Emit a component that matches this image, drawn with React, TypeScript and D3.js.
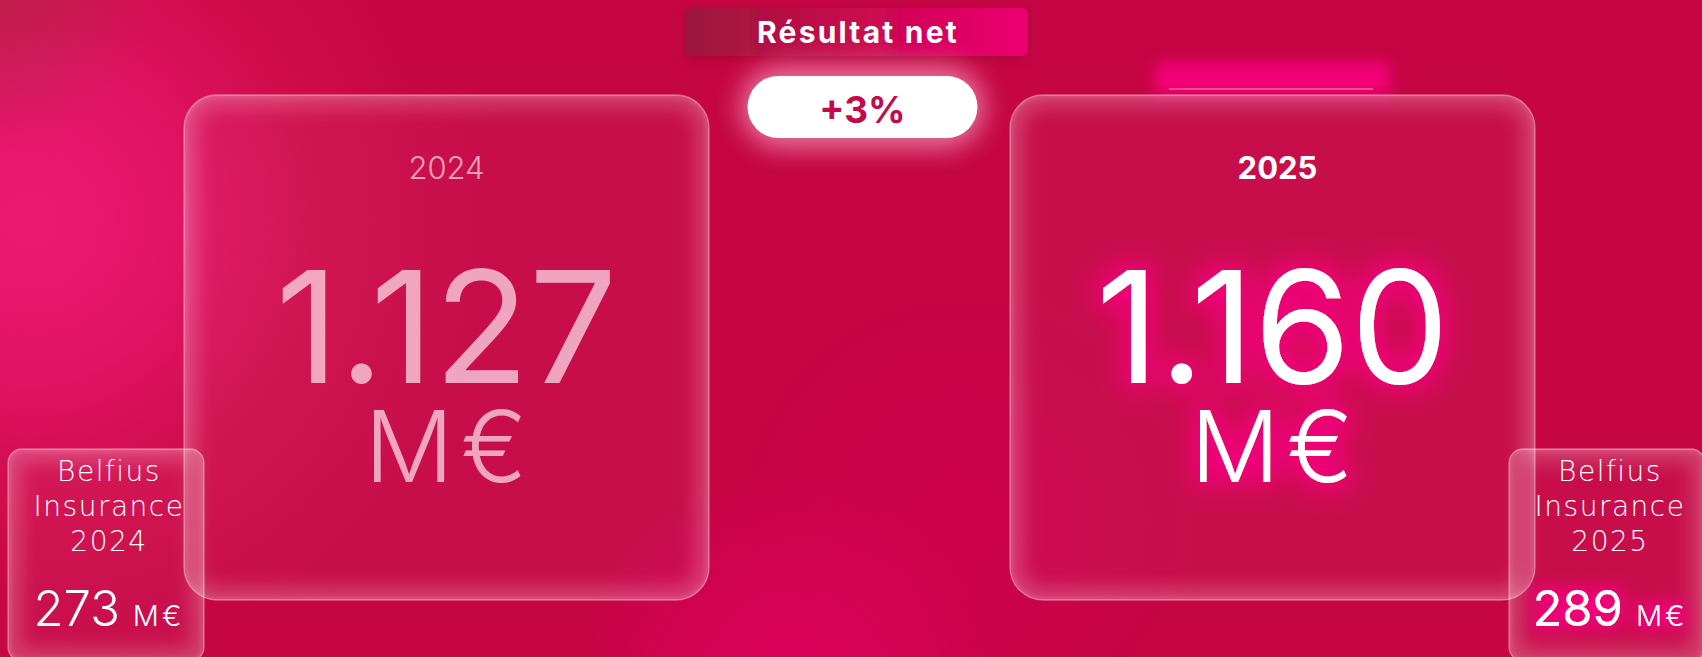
import React from "react";
import * as d3 from "d3";

// ---- data ----
const years = ["2024", "2025"];
const netResult = [1127, 1160]; // M€
const subsidiaryName = ["Belfius", "Insurance"];
const subsidiaryResult = [273, 289]; // M€
const titleText = "Résultat net";
const unitText = "M€";

const W = 1702;
const H = 657;
const FONT = "Inter, 'Open Sans', 'Noto Sans', sans-serif";
const WIDE = "'DejaVu Sans', Inter, sans-serif";

const locale = d3.formatLocale({ decimal: ",", thousands: ".", grouping: [3], currency: ["", "€"] });
const fmtNum = locale.format(",d");
const fmtChange = (a: number, b: number) => {
  const v = Math.round((b / a - 1) * 100);
  return (v >= 0 ? "+" : "") + v + "%";
};

function GlassCard({ id, x, y, w, h, r }: { id: string; x: number; y: number; w: number; h: number; r: number }) {
  return (
    <g>
      <clipPath id={id}>
        <rect x={x} y={y} width={w} height={h} rx={r} />
      </clipPath>
      <rect x={x} y={y} width={w} height={h} rx={r} fill="rgba(255,255,255,0.04)" />
      <g clipPath={`url(#${id})`}>
        <rect x={x} y={y} width={w} height={h} rx={r} fill="none" stroke="rgba(255,255,255,0.2)" strokeWidth={26} filter="url(#soft)" />
        <rect x={x} y={y} width={w} height={h} rx={r} fill="none" stroke="rgba(255,255,255,0.12)" strokeWidth={6} filter="url(#soft2)" />
      </g>
      <rect x={x} y={y} width={w} height={h} rx={r} fill="none" stroke="rgba(255,255,255,0.36)" strokeWidth={1.3} />
    </g>
  );
}

export default function App() {
  const xCard = d3.scaleBand<string>().domain(years).range([184, 1535]).paddingInner(301 / 826);
  const xSmall = d3.scaleBand<string>().domain(years).range([8, 1705]).paddingInner(1 - 196 / 1501);
  const cw = xCard.bandwidth();
  const sw = xSmall.bandwidth();
  const cardTop = 95;
  const cardH = 505;
  const smallTop = 449;
  const smallH = 212;
  const lastIdx = years.length - 1;
  const change = fmtChange(netResult[0], netResult[lastIdx]);
  const midX = ((xCard(years[0]) as number) + cw / 2 + (xCard(years[lastIdx]) as number) + cw / 2) / 2 + 3;
  const lastX = xCard(years[lastIdx]) as number;

  return (
    <svg width={W} height={H} style={{ position: "absolute", left: 0, top: 0, display: "block" }} fontFamily={FONT}>
      <defs>
        <radialGradient id="bgTL" gradientUnits="userSpaceOnUse" cx={30} cy={220} r={500}>
          <stop offset="0" stopColor="#ee1a72" stopOpacity={1} />
          <stop offset="0.3" stopColor="#e6176a" stopOpacity={0.85} />
          <stop offset="0.65" stopColor="#d8124f" stopOpacity={0.4} />
          <stop offset="1" stopColor="#c50544" stopOpacity={0} />
        </radialGradient>
        <radialGradient id="bgCorner" gradientUnits="userSpaceOnUse" cx={0} cy={0} r={150}>
          <stop offset="0" stopColor="#b8244c" stopOpacity={0.75} />
          <stop offset="1" stopColor="#b8244c" stopOpacity={0} />
        </radialGradient>
        <radialGradient id="bgBottom" gradientUnits="userSpaceOnUse" cx={790} cy={690} r={220}>
          <stop offset="0" stopColor="#e2005f" stopOpacity={0.9} />
          <stop offset="1" stopColor="#e2005f" stopOpacity={0} />
        </radialGradient>
        <radialGradient id="bgMid" gradientUnits="userSpaceOnUse" cx={960} cy={520} r={260}>
          <stop offset="0" stopColor="#d3004f" stopOpacity={0.6} />
          <stop offset="1" stopColor="#d3004f" stopOpacity={0} />
        </radialGradient>
        <linearGradient id="titleGrad" x1="0" x2="1" y1="0" y2="0">
          <stop offset="0" stopColor="#9a1840" />
          <stop offset="0.12" stopColor="#a8143f" />
          <stop offset="0.5" stopColor="#c8084e" />
          <stop offset="1" stopColor="#ec0071" />
        </linearGradient>
        <filter id="soft" x="-10%" y="-10%" width="120%" height="120%">
          <feGaussianBlur stdDeviation="9" />
        </filter>
        <filter id="soft2" x="-10%" y="-10%" width="120%" height="120%">
          <feGaussianBlur stdDeviation="2" />
        </filter>
        <filter id="blur12" x="-50%" y="-100%" width="200%" height="300%">
          <feGaussianBlur stdDeviation="13" />
        </filter>
        <filter id="blur8" x="-50%" y="-100%" width="200%" height="300%">
          <feGaussianBlur stdDeviation="7" />
        </filter>
        <filter id="shadow" x="-20%" y="-50%" width="140%" height="200%">
          <feGaussianBlur in="SourceAlpha" stdDeviation="4" />
          <feOffset dy="3" result="o" />
          <feFlood floodColor="#7a0020" floodOpacity="0.35" />
          <feComposite in2="o" operator="in" result="s" />
          <feMerge>
            <feMergeNode in="s" />
            <feMergeNode in="SourceGraphic" />
          </feMerge>
        </filter>
        <filter id="pinkGlow" x="-30%" y="-40%" width="160%" height="180%">
          <feMorphology operator="dilate" radius="7" in="SourceAlpha" result="d" />
          <feGaussianBlur in="d" stdDeviation="13" result="b" />
          <feFlood floodColor="#f4007e" floodOpacity="0.95" />
          <feComposite in2="b" operator="in" result="g" />
          <feMerge>
            <feMergeNode in="g" />
            <feMergeNode in="SourceGraphic" />
          </feMerge>
        </filter>
        <filter id="pinkGlowS" x="-30%" y="-40%" width="160%" height="180%">
          <feMorphology operator="dilate" radius="4" in="SourceAlpha" result="d" />
          <feGaussianBlur in="d" stdDeviation="8" result="b" />
          <feFlood floodColor="#f4007e" floodOpacity="0.95" />
          <feComposite in2="b" operator="in" result="g" />
          <feMerge>
            <feMergeNode in="g" />
            <feMergeNode in="SourceGraphic" />
          </feMerge>
        </filter>
      </defs>

      {/* background */}
      <rect x={0} y={0} width={W} height={H} fill="#c50544" />
      <rect x={0} y={0} width={W} height={H} fill="url(#bgMid)" />
      <rect x={0} y={0} width={W} height={H} fill="url(#bgTL)" />
      <rect x={0} y={0} width={W} height={H} fill="url(#bgCorner)" />
      <rect x={0} y={0} width={W} height={H} fill="url(#bgBottom)" />

      {/* glow bar above the latest year card */}
      <rect x={lastX + 145} y={62} width={235} height={32} fill="#f5007a" opacity={0.95} filter="url(#blur8)" />
      <rect x={lastX + 159} y={88} width={204} height={2} fill="#ff4a92" />

      {/* big cards */}
      {years.map((yr, i) => {
        const x0 = xCard(yr) as number;
        const cx = x0 + cw / 2;
        const isLast = i === lastIdx;
        const col = isLast ? "#ffffff" : "rgba(255,225,236,0.72)";
        return (
          <g key={yr}>
            <GlassCard id={`card${i}`} x={x0} y={cardTop} w={cw} h={cardH} r={33} />
            <text x={cx + (isLast ? 5 : 0)} y={179} textAnchor="middle" fontSize={31} fontWeight={isLast ? 700 : 300} fill={isLast ? "#fff" : "rgba(255,225,236,0.7)"}>
              {yr}
            </text>
            <text textAnchor="middle" fill={col} filter={isLast ? "url(#pinkGlow)" : undefined}>
              <tspan x={cx} y={383} fontSize={156} fontWeight={400} letterSpacing={0}>
                {fmtNum(netResult[i])}
              </tspan>
              <tspan x={cx + 3} y={482} fontSize={99} fontWeight={300} letterSpacing={7}>
                {unitText}
              </tspan>
            </text>
          </g>
        );
      })}

      {/* small subsidiary cards */}
      {years.map((yr, i) => {
        const x0 = xSmall(yr) as number;
        const cx = x0 + sw / 2 + 2;
        const isLast = i === lastIdx;
        return (
          <g key={"s" + yr}>
            <GlassCard id={`small${i}`} x={x0} y={smallTop} w={sw} h={smallH} r={14} />
            <text textAnchor="middle" fontSize={28} fontWeight={200} fill="#fff" fontFamily={WIDE} letterSpacing={1.5}>
              {[...subsidiaryName, yr].map((line, j) => (
                <tspan key={j} x={cx + 1} y={481 + j * 35}>
                  {line}
                </tspan>
              ))}
            </text>
            <text x={cx + 1} y={626} textAnchor="middle" fill="#fff" filter={isLast ? "url(#pinkGlowS)" : undefined}>
              <tspan fontSize={49} fontWeight={isLast ? 400 : 300}>{subsidiaryResult[i]}</tspan>
              <tspan fontSize={29} fontWeight={300} dx={13} letterSpacing={3}>{unitText}</tspan>
            </text>
          </g>
        );
      })}

      {/* title */}
      <rect x={686} y={8} width={342} height={48} rx={6} fill="url(#titleGrad)" filter="url(#shadow)" />
      <text x={858} y={43} textAnchor="middle" fontSize={30} fontWeight={700} fill="#fff" letterSpacing={2.2}>
        {titleText}
      </text>

      {/* change pill */}
      <rect x={midX - 122} y={66} width={244} height={82} rx={41} fill="rgba(255,190,215,0.6)" filter="url(#blur12)" />
      <rect x={midX - 115} y={76} width={230} height={62} rx={31} fill="#ffffff" />
      <text x={midX} y={123} textAnchor="middle" fontSize={37} fontWeight={700} fill="#c30a4a">
        {change}
      </text>
    </svg>
  );
}
